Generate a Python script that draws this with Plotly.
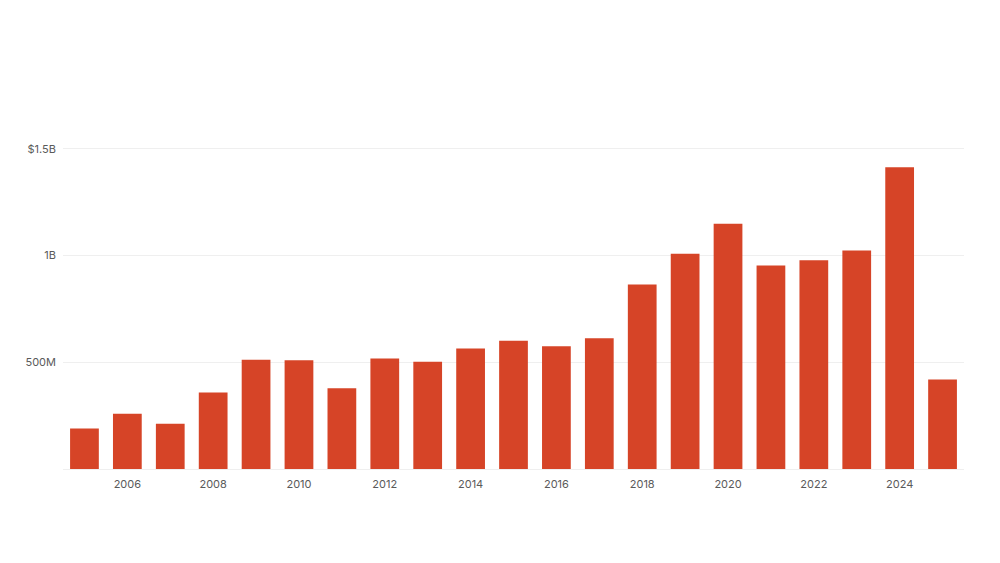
import plotly.graph_objects as go

years = list(range(2005, 2026))
values_musd = [190, 259, 212, 358, 512, 509, 378, 517, 502, 564, 600, 575, 612,
               864, 1008, 1149, 953, 977, 1023, 1413, 419]
x_tick_vals = [2006, 2008, 2010, 2012, 2014, 2016, 2018, 2020, 2022, 2024]
y_tick_vals = [0, 500e6, 1e9, 1.5e9]
y_tick_text = ["", "500M", "1B", "$1.5B"]

values = [v * 1e6 for v in values_musd]

fig = go.Figure(go.Bar(
    x=years, y=values,
    marker=dict(color="#D64427", line=dict(width=0)),
    width=0.67,
))

fig.update_layout(
    width=992, height=555,
    margin=dict(l=55, r=36, t=130, b=94, autoexpand=False),
    paper_bgcolor="white", plot_bgcolor="white",
    showlegend=False,
    font=dict(family="Inter, Lato, sans-serif", size=11, color="#5a5a5a"),
    xaxis=dict(
        range=[2004.5, 2025.5],
        tickvals=x_tick_vals,
        ticktext=[str(v) for v in x_tick_vals],
        showgrid=False, showline=False, zeroline=False,
        ticks="", ticklen=0, ticklabelstandoff=7,
    ),
    yaxis=dict(
        range=[0, 1.55e9],
        tickvals=y_tick_vals,
        ticktext=y_tick_text,
        showgrid=True, gridcolor="#EFEFEF", gridwidth=1,
        zeroline=True, zerolinecolor="#EFEFEF", zerolinewidth=1,
        showline=False, ticks="", ticklabelstandoff=6,
    ),
)

fig.write_html("out.html")
